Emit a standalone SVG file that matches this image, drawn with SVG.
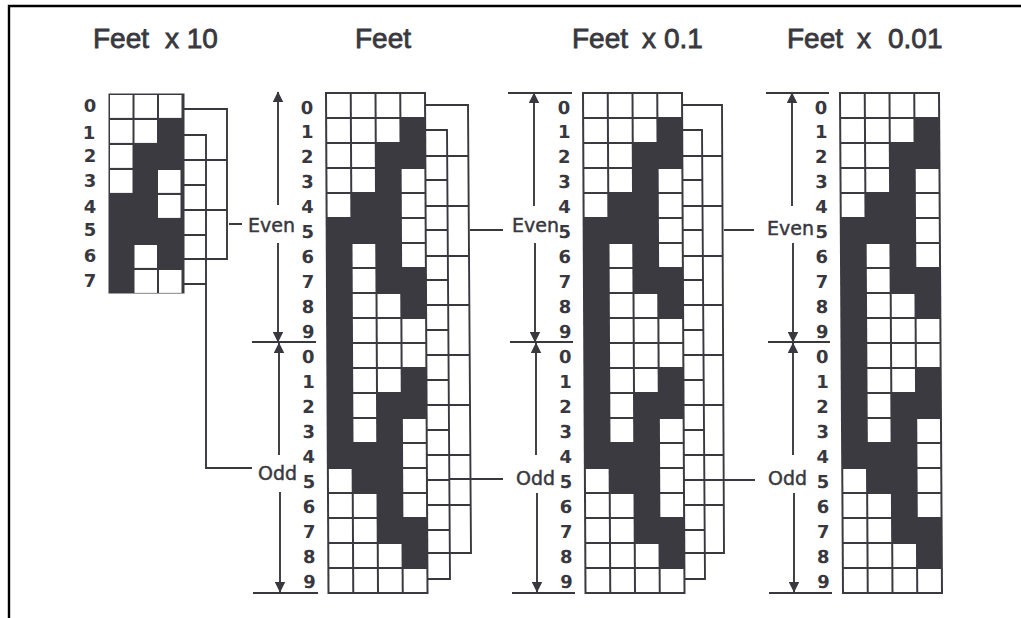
<svg xmlns="http://www.w3.org/2000/svg" width="1021" height="618" viewBox="0 0 1021 618">
<style>
text{font-family:"Liberation Sans",Arial,sans-serif;fill:#38383e}
.t{font-size:28px;stroke:#38383e;stroke-width:.8}
.d{font-family:"DejaVu Sans",sans-serif;font-size:18px;font-weight:700;text-anchor:middle}
.l{font-family:"DejaVu Sans",sans-serif;font-size:19px;stroke:#38383e;stroke-width:.45}
.c{width:22.75px;height:23px;fill:#fff}
.k{width:22.5px;height:22.9px;fill:#fff}
.w{fill:none;stroke:#38383e;stroke-width:1.9}
.b{fill:#3a3a40}
</style>
<defs>
<marker id="a" viewBox="0 0 10 10" refX="9.5" refY="5" markerWidth="11" markerHeight="11" markerUnits="userSpaceOnUse" orient="auto"><path d="M0 0L10 5L0 10z" fill="#38383e"/></marker>
<g id="grid20">
<rect class="b" x="-1" y="-1" width="101" height="502"/>
<rect class="c" x="1" y="1"/><rect class="c" x="25.75" y="1"/><rect class="c" x="50.5" y="1"/><rect class="c" x="75.25" y="1"/>
<rect class="c" x="1" y="26"/><rect class="c" x="25.75" y="26"/><rect class="c" x="50.5" y="26"/>
<rect class="c" x="1" y="51"/><rect class="c" x="25.75" y="51"/>
<rect class="c" x="1" y="76"/><rect class="c" x="25.75" y="76"/><rect class="c" x="75.25" y="76"/>
<rect class="c" x="1" y="101"/><rect class="c" x="75.25" y="101"/>
<rect class="c" x="75.25" y="126"/>
<rect class="c" x="25.75" y="151"/><rect class="c" x="75.25" y="151"/>
<rect class="c" x="25.75" y="176"/>
<rect class="c" x="25.75" y="201"/><rect class="c" x="50.5" y="201"/>
<rect class="c" x="25.75" y="226"/><rect class="c" x="50.5" y="226"/><rect class="c" x="75.25" y="226"/>
<rect class="c" x="25.75" y="251"/><rect class="c" x="50.5" y="251"/><rect class="c" x="75.25" y="251"/>
<rect class="c" x="25.75" y="276"/><rect class="c" x="50.5" y="276"/>
<rect class="c" x="25.75" y="301"/>
<rect class="c" x="25.75" y="326"/><rect class="c" x="75.25" y="326"/>
<rect class="c" x="75.25" y="351"/>
<rect class="c" x="1" y="376"/><rect class="c" x="75.25" y="376"/>
<rect class="c" x="1" y="401"/><rect class="c" x="25.75" y="401"/><rect class="c" x="75.25" y="401"/>
<rect class="c" x="1" y="426"/><rect class="c" x="25.75" y="426"/>
<rect class="c" x="1" y="451"/><rect class="c" x="25.75" y="451"/><rect class="c" x="50.5" y="451"/>
<rect class="c" x="1" y="476"/><rect class="c" x="25.75" y="476"/><rect class="c" x="50.5" y="476"/><rect class="c" x="75.25" y="476"/>
</g>
<g id="digits">
<text class="d" x="0" y="6.5">0</text><text class="d" x="0" y="31.5">1</text><text class="d" x="0" y="56.5">2</text><text class="d" x="0" y="81.5">3</text><text class="d" x="0" y="106.5">4</text><text class="d" x="0" y="131.5">5</text><text class="d" x="0" y="156.5">6</text><text class="d" x="0" y="181.5">7</text><text class="d" x="0" y="206.5">8</text><text class="d" x="0" y="231.5">9</text>
<text class="d" x="0" y="256.5">0</text><text class="d" x="0" y="281.5">1</text><text class="d" x="0" y="306.5">2</text><text class="d" x="0" y="331.5">3</text><text class="d" x="0" y="356.5">4</text><text class="d" x="0" y="381.5">5</text><text class="d" x="0" y="406.5">6</text><text class="d" x="0" y="431.5">7</text><text class="d" x="0" y="456.5">8</text><text class="d" x="0" y="481.5">9</text>
</g>
</defs>
<rect width="1021" height="618" fill="#fff"/>
<g id="frame"><path d="M9 618V6H1021" fill="none" stroke="#000" stroke-width="2.4"/></g>

<g id="connectors">
<path class="w" d="M184 109H227V259H184M184 160H227M184 210H227M229 224H242"/>
<path class="w" d="M184 135H206V468H252M184 185H206M184 235H206M184 284H206"/>
<path class="w" d="M425 105H468L471 553H426M426 156H469M426 206H469M426 256H469M426 305H470M426 355H470M426 405H470M427 455H470M427 505H471M470 230H503"/>
<path class="w" d="M425 130H447L450 579H427M426 180H447M426 230H448M426 280H448M426 330H448M426 380H449M426 430H449M427 480H449M427 530H450M449 479H503"/>
<path class="w" d="M682 105H722L724 553H684M682 156H722M682 206H722M682 256H723M683 305H723M683 355H723M683 405H723M683 455H724M684 505H724M724 230H754"/>
<path class="w" d="M682 130H702L705 579H684M682 180H703M683 230H703M683 280H703M683 330H704M683 380H704M683 430H704M684 480H755M684 530H705"/>
<g id="dim-feet">
<path class="w" marker-end="url(#a)" d="M278 205V92"/><path class="w" marker-end="url(#a)" d="M278 243V342"/>
<path class="w" marker-end="url(#a)" d="M279 455V343"/><path class="w" marker-end="url(#a)" d="M280 492V592"/>
<path class="w" d="M252 342H316M253 593H318"/>
</g>
<g id="dim-feet01">
<path class="w" marker-end="url(#a)" d="M534 206V93"/><path class="w" marker-end="url(#a)" d="M535 243V342"/>
<path class="w" marker-end="url(#a)" d="M536 455V343"/><path class="w" marker-end="url(#a)" d="M537 493V592"/>
<path class="w" d="M508 93H572M510 342H573M512 593H575"/>
</g>
<g id="dim-feet001">
<path class="w" marker-end="url(#a)" d="M792 206V93"/><path class="w" marker-end="url(#a)" d="M793 243V342"/>
<path class="w" marker-end="url(#a)" d="M793 455V343"/><path class="w" marker-end="url(#a)" d="M794 493V592"/>
<path class="w" d="M766 93H829M768 342H830M769 593H832"/>
</g>
</g>

<g id="feet-x10">
<text class="t" x="93" y="47.5">Feet <tspan x="165">x 10</tspan></text>
<rect class="b" x="108.5" y="93.5" width="76" height="200"/>
<rect class="k" x="110" y="95"/><rect class="k" x="134.5" y="95"/><rect class="k" x="159" y="95"/>
<rect class="k" x="110" y="120"/><rect class="k" x="134.5" y="120"/>
<rect class="k" x="110" y="145"/>
<rect class="k" x="110" y="170"/><rect class="k" x="158" y="170"/>
<rect class="k" x="158" y="195"/>
<rect class="k" x="134.5" y="245"/>
<rect class="k" x="134.5" y="270"/><rect class="k" x="159" y="270"/>
<text class="d" x="90" y="111.5">0</text><text class="d" x="89" y="138.5">1</text><text class="d" x="90" y="161.5">2</text><text class="d" x="90" y="186.5">3</text><text class="d" x="90" y="212.5">4</text><text class="d" x="90" y="235.5">5</text><text class="d" x="90" y="261.5">6</text><text class="d" x="90" y="286.5">7</text>
<text class="l" x="248" y="232">Even</text>
<text class="l" x="258" y="480">Odd</text>
</g>

<g id="feet">
<text class="t" x="355" y="47.5">Feet</text>
<use href="#grid20" transform="matrix(1 0 .005 1 326 93)"/>
<use href="#digits" transform="matrix(1 0 .005 1 307 107)"/>
</g>

<g id="feet-x01">
<text class="t" x="572" y="47.5">Feet <tspan x="642">x</tspan> <tspan x="664">0.1</tspan></text>
<use href="#grid20" transform="matrix(1 0 .005 1 583 93)"/>
<use href="#digits" transform="matrix(1 0 .005 1 564 107)"/>
<text class="l" x="512" y="232">Even</text>
<text class="l" x="516" y="485">Odd</text>
</g>

<g id="feet-x001">
<text class="t" x="787" y="47.5">Feet <tspan x="857">x</tspan> <tspan x="888">0.01</tspan></text>
<use href="#grid20" transform="matrix(1 0 .006 1 840 93)"/>
<use href="#digits" transform="matrix(1 0 .005 1 821 107)"/>
<text class="l" x="767" y="235">Even</text>
<text class="l" x="768" y="485">Odd</text>
</g>
</svg>
